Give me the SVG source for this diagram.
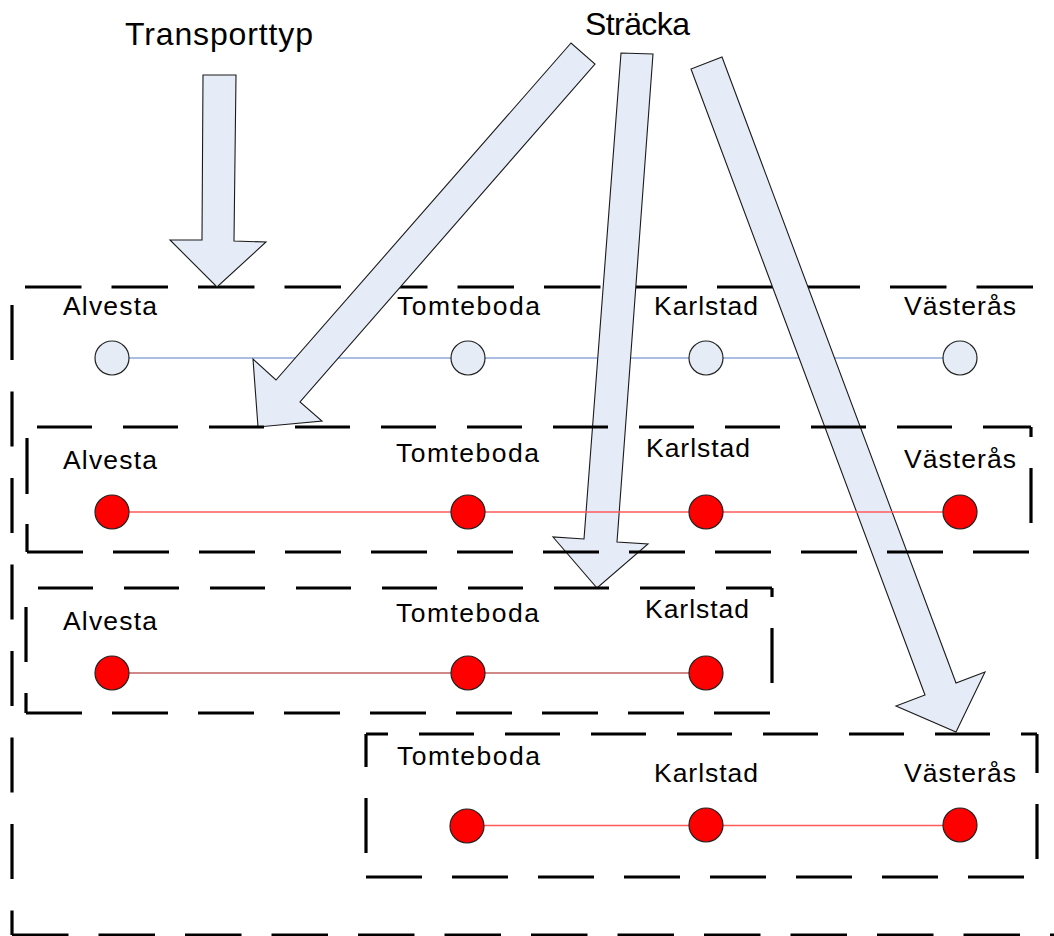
<svg xmlns="http://www.w3.org/2000/svg" width="1054" height="936" viewBox="0 0 1054 936">
  <style>
    .title { font-family: "Liberation Sans", Arial, sans-serif; font-size: 32px; fill: #000; }
    .label { font-family: "Liberation Sans", Arial, sans-serif; font-size: 26.5px; fill: #000; }
    .box { fill: none; stroke: #000; stroke-width: 3.2; }
    .d86 { stroke-dasharray: 56 30; }
    .d865 { stroke-dasharray: 56.5 30; }
    .arrow { fill: #E6ECF7; stroke: #1a1a1a; stroke-width: 1.1; stroke-linejoin: miter; }
    .stop-plain { fill: #E6ECF6; stroke: #222; stroke-width: 1.2; }
    .stop-red { fill: #FF0000; stroke: #222; stroke-width: 1.2; }
    .link-blue { stroke: #8EA9DB; stroke-width: 1.6; }
    .link-red { stroke: #FF5A5A; stroke-width: 1.4; }
    .link-dark { stroke: #A01515; stroke-width: 1.2; }
  </style>

  <rect width="1054" height="936" fill="#fff"/>

  <!-- outer frame: transport type -->
  <g id="frame-transporttyp">
    <path class="box d865" d="M25 287H1054"/>
    <path class="box" style="stroke-dasharray:55 31.5" d="M12 305V935"/>
    <path class="box d865" d="M12 935H1054"/>
  </g>

  <!-- full route row -->
  <g id="row-full">
    <line class="link-blue" x1="112" y1="358" x2="960" y2="358"/>
    <circle class="stop-plain" cx="112" cy="358" r="17"/>
    <circle class="stop-plain" cx="468" cy="358" r="17"/>
    <circle class="stop-plain" cx="706" cy="358" r="17"/>
    <circle class="stop-plain" cx="960" cy="358" r="17"/>
    <text class="label" x="63" y="315" textLength="94">Alvesta</text>
    <text class="label" x="397" y="315" textLength="143">Tomteboda</text>
    <text class="label" x="654" y="315" textLength="104">Karlstad</text>
    <text class="label" x="904" y="315" textLength="112">Västerås</text>
  </g>

  <!-- block arrows -->
  <g id="connectors">
    <polygon class="arrow" points="203,75 236,75 234,241 266,242 217,287 170,240 202,240"/>
    <polygon class="arrow" points="571,43 276,380 253,359 258,427 322,421 300,402 595,64"/>
    <polygon class="arrow" points="621,53 584,539 553,537 597,588 648,544 617,542 653,54"/>
    <polygon class="arrow" points="691,69 925,695 896,706 956,732 985,672 956,683 722,57"/>
  </g>

  <!-- section: Alvesta - Västerås -->
  <g id="section-alvesta-vasteras">
    <path class="box" style="stroke-dasharray:55 31" d="M37 427H1031"/>
    <path class="box" style="stroke-dasharray:55 31;stroke-dashoffset:45" d="M1031 427V552"/>
    <path class="box d86" style="stroke-dashoffset:28" d="M27 552V427"/>
    <path class="box d86" d="M27 552H1031"/>
    <line class="link-red" x1="112" y1="512" x2="960" y2="512"/>
    <circle class="stop-red" cx="112" cy="512" r="17"/>
    <circle class="stop-red" cx="468" cy="512" r="17"/>
    <circle class="stop-red" cx="706" cy="512" r="17"/>
    <circle class="stop-red" cx="960" cy="512" r="17"/>
    <text class="label" x="63" y="469" textLength="94">Alvesta</text>
    <text class="label" x="396" y="462" textLength="143">Tomteboda</text>
    <text class="label" x="646" y="457" textLength="104">Karlstad</text>
    <text class="label" x="904" y="468" textLength="112">Västerås</text>
  </g>

  <!-- section: Alvesta - Karlstad -->
  <g id="section-alvesta-karlstad">
    <path class="box" style="stroke-dasharray:55 31" d="M38 588H772"/>
    <path class="box" style="stroke-dasharray:55 31;stroke-dashoffset:46" d="M772 588V713"/>
    <path class="box" style="stroke-dasharray:55 31;stroke-dashoffset:35" d="M26 713V588"/>
    <path class="box d86" d="M26 713H772"/>
    <line class="link-dark" x1="112" y1="673" x2="706" y2="673"/>
    <circle class="stop-red" cx="112" cy="673" r="17"/>
    <circle class="stop-red" cx="468" cy="673" r="17"/>
    <circle class="stop-red" cx="706" cy="673" r="17"/>
    <text class="label" x="63" y="630" textLength="94">Alvesta</text>
    <text class="label" x="396" y="622" textLength="143">Tomteboda</text>
    <text class="label" x="645" y="618" textLength="104">Karlstad</text>
  </g>

  <!-- section: Tomteboda - Västerås -->
  <g id="section-tomteboda-vasteras">
    <path class="box" style="stroke-dasharray:55 31;stroke-dashoffset:33" d="M366 734H1037"/>
    <path class="box" style="stroke-dasharray:55 31;stroke-dashoffset:16" d="M1037 734V877"/>
    <path class="box" style="stroke-dasharray:55 31;stroke-dashoffset:22" d="M366 734V877"/>
    <path class="box d86" d="M366 877H1037"/>
    <line class="link-red" x1="468" y1="825.5" x2="960" y2="825.5"/>
    <circle class="stop-red" cx="467" cy="826" r="17"/>
    <circle class="stop-red" cx="706" cy="825" r="17"/>
    <circle class="stop-red" cx="960" cy="825" r="17"/>
    <text class="label" x="397" y="765" textLength="143">Tomteboda</text>
    <text class="label" x="654" y="782" textLength="104">Karlstad</text>
    <text class="label" x="904" y="782" textLength="112">Västerås</text>
  </g>

  <!-- headings -->
  <g id="heading-transporttyp">
    <text class="title" x="125" y="45" textLength="188">Transporttyp</text>
  </g>
  <g id="heading-stracka">
    <text class="title" x="585" y="35" textLength="105">Sträcka</text>
  </g>
</svg>
